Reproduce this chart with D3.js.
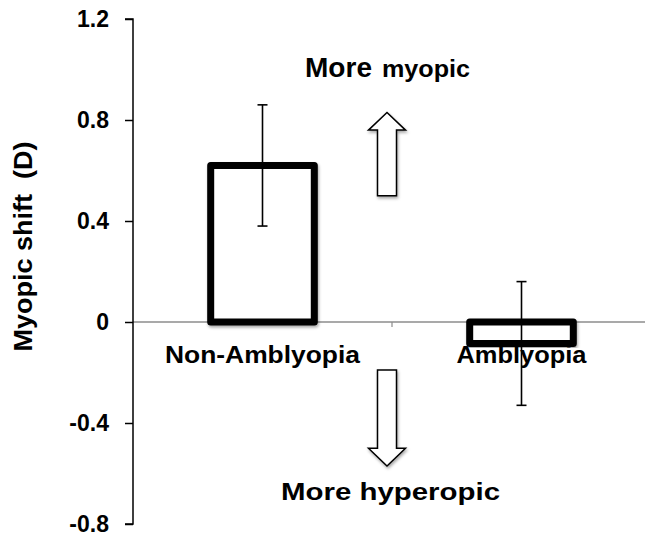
<!DOCTYPE html>
<html>
<head>
<meta charset="utf-8">
<script src="https://cdn.jsdelivr.net/npm/d3@7"></script>
<style>
  html, body { margin: 0; padding: 0; background: #fff; }
  svg { display: block; }
  text { font-family: "Liberation Sans", Arial, Helvetica, sans-serif; font-weight: bold; fill: #000; }
</style>
</head>
<body>
<svg id="chart" width="645" height="537"></svg>
<script>
// Refractive change by group (dioptres), with standard-deviation error bars
const categories = ["Non-Amblyopia", "Amblyopia"];
const meanShift = [0.62, -0.085];
const errShift = [0.24, 0.245];
const yTicks = [1.2, 0.8, 0.4, 0, -0.4, -0.8];
const yTickLabels = ["1.2", "0.8", "0.4", "0", "-0.4", "-0.8"];

const svg = d3.select("#chart");

const axisX = 133;
const x = d3.scaleBand().domain(categories).range([axisX, 651]).padding(0);
const y = d3.scaleLinear().domain([-0.8, 1.2]).range([524, 19]);

const defs = svg.append("defs");
const shadow = defs.append("filter").attr("id", "soft-shadow")
  .attr("x", "-20%").attr("y", "-20%").attr("width", "140%").attr("height", "140%");
shadow.append("feDropShadow").attr("dx", 1).attr("dy", 2).attr("stdDeviation", 1.5)
  .attr("flood-color", "#000").attr("flood-opacity", 0.35);

// zero baseline (gray) with category divider tick
svg.append("line")
  .attr("x1", axisX).attr("x2", 651)
  .attr("y1", y(0)).attr("y2", y(0))
  .attr("stroke", "#8c8c8c").attr("stroke-width", 1.6);
svg.append("line")
  .attr("x1", x(categories[1])).attr("x2", x(categories[1]))
  .attr("y1", y(0)).attr("y2", y(0) + 5)
  .attr("stroke", "#8c8c8c").attr("stroke-width", 1.2);

// y axis: line and ticks from d3.axisLeft, labels set in a larger bold face
const yAxis = d3.axisLeft(y).tickValues(yTicks).tickFormat("").tickSize(8);
const gy = svg.append("g").attr("transform", `translate(${axisX},0)`).call(yAxis);
gy.select(".domain").attr("stroke", "#000").attr("stroke-width", 1.5)
  .attr("d", `M-8,${y(1.2)}H0V${y(-0.8)}H-8`);
gy.selectAll(".tick line").attr("stroke", "#000").attr("stroke-width", 1.5);

svg.append("g").selectAll("text")
  .data(yTicks)
  .join("text")
  .attr("x", axisX - 24)
  .attr("y", d => y(d))
  .attr("dy", "0.36em")
  .attr("text-anchor", "end")
  .style("font-size", "23px")
  .text((d, i) => yTickLabels[i]);

// bars: white fill with heavy black outline
const barW = x.bandwidth() * 0.4;
svg.append("g").selectAll("rect")
  .data(categories)
  .join("rect")
  .attr("x", d => x(d) + x.bandwidth() / 2 - barW / 2)
  .attr("width", barW)
  .attr("y", (d, i) => y(Math.max(0, meanShift[i])))
  .attr("height", (d, i) => Math.abs(y(meanShift[i]) - y(0)))
  .attr("fill", "#fff").attr("stroke", "#000").attr("stroke-width", 7)
  .attr("stroke-linejoin", "round")
  .attr("filter", "url(#soft-shadow)");

// error bars
const eb = svg.append("g").attr("stroke", "#000").attr("stroke-width", 1.6);
categories.forEach((c, i) => {
  const cx = x(c) + x.bandwidth() / 2;
  const hi = y(meanShift[i] + errShift[i]);
  const lo = y(meanShift[i] - errShift[i]);
  eb.append("line").attr("x1", cx).attr("x2", cx).attr("y1", hi).attr("y2", lo);
  eb.append("line").attr("x1", cx - 5).attr("x2", cx + 5).attr("y1", hi).attr("y2", hi);
  eb.append("line").attr("x1", cx - 5).attr("x2", cx + 5).attr("y1", lo).attr("y2", lo);
});

// category labels
svg.append("g").selectAll("text")
  .data(categories)
  .join("text")
  .attr("x", d => x(d) + x.bandwidth() / 2)
  .attr("y", 363)
  .attr("text-anchor", "middle")
  .style("font-size", "24px")
  .attr("textLength", (d, i) => [195, 130][i])
  .attr("lengthAdjust", "spacingAndGlyphs")
  .text(d => d);

// direction arrows (block arrows, in data units)
const ax = x(categories[1]) - 5;
const shaftHalf = 9.5, headHalf = 18.5;
function blockArrow(tail, headBase, tip) {
  const p = d3.path();
  p.moveTo(ax - shaftHalf, y(tail));
  p.lineTo(ax - shaftHalf, y(headBase));
  p.lineTo(ax - headHalf, y(headBase));
  p.lineTo(ax, y(tip));
  p.lineTo(ax + headHalf, y(headBase));
  p.lineTo(ax + shaftHalf, y(headBase));
  p.lineTo(ax + shaftHalf, y(tail));
  p.closePath();
  return p.toString();
}
[[0.5, 0.76, 0.83], [-0.19, -0.5, -0.57]].forEach(a => {
  svg.append("path").attr("d", blockArrow(a[0], a[1], a[2]))
    .attr("fill", "#fff").attr("stroke", "#000").attr("stroke-width", 1.5)
    .attr("stroke-linejoin", "miter")
    .attr("filter", "url(#soft-shadow)");
});

// annotations
const myopicNote = svg.append("text").attr("x", 305).attr("y", 77);
myopicNote.append("tspan").style("font-size", "28px").attr("textLength", 67)
  .attr("lengthAdjust", "spacingAndGlyphs").text("More");
myopicNote.append("tspan").attr("x", 382).style("font-size", "23px").attr("textLength", 88)
  .attr("lengthAdjust", "spacingAndGlyphs").text("myopic");

svg.append("text").attr("x", 281).attr("y", 500)
  .style("font-size", "23px")
  .attr("textLength", 219).attr("lengthAdjust", "spacingAndGlyphs")
  .text("More hyperopic");

// y axis title
svg.append("text")
  .attr("transform", "translate(32,246.5) rotate(-90)")
  .attr("text-anchor", "middle")
  .style("font-size", "25px")
  .style("white-space", "pre")
  .attr("textLength", 210).attr("lengthAdjust", "spacingAndGlyphs")
  .text("Myopic shift  (D)");
</script>
</body>
</html>
